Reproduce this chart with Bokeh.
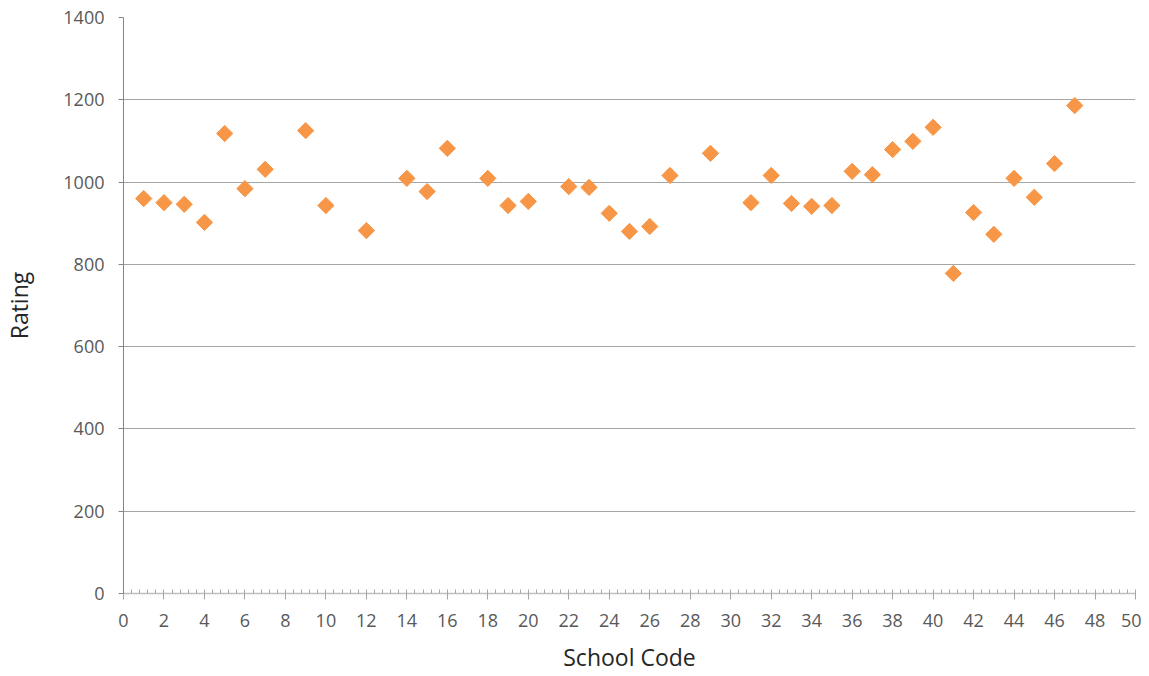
import numpy as np
from bokeh.plotting import figure
from bokeh.models import ColumnDataSource, FixedTicker, Range1d
from bokeh.embed import file_html
from bokeh.resources import INLINE

school_code = [1, 2, 3, 4, 5, 6, 7, 9, 10, 12, 14, 15, 16, 18, 19, 20, 22, 23, 24, 25,
               26, 27, 29, 31, 32, 33, 34, 35, 36, 37, 38, 39, 40, 41, 42, 43, 44, 45, 46, 47]
rating = [960, 950, 946, 902, 1118, 984, 1031, 1125, 943, 882, 1009, 977, 1082, 1009, 943, 953,
          989, 987, 924, 880, 892, 1016, 1070, 950, 1016, 948, 941, 943, 1026, 1018, 1079, 1099,
          1133, 778, 926, 873, 1009, 963, 1045, 1186]
x_ticks = list(range(0, 51, 2))
y_ticks = list(range(0, 1401, 200))

src = ColumnDataSource(data=dict(x=school_code, y=rating))

p = figure(width=1141, height=676, output_backend="svg", toolbar_location=None,
           x_range=Range1d(0, 50), y_range=Range1d(0, 1400),
           min_border_left=122, min_border_right=6, min_border_top=17, min_border_bottom=83)
p.outline_line_color = None
p.background_fill_color = "white"

p.scatter("x", "y", source=src, marker="square", size=11.5, angle=np.pi / 4,
          fill_color="#F79646", line_color="#F79646")

font = "Open Sans"
# x axis
xa = p.xaxis[0]
xa.ticker = FixedTicker(ticks=x_ticks, minor_ticks=list(np.round(np.arange(0, 50.01, 0.4), 2)))
xa.axis_line_color = "#BFBFBF"
xa.axis_line_width = 1.5
xa.major_tick_line_color = "#A6A6A6"
xa.minor_tick_line_color = "#A6A6A6"
xa.major_tick_in = 3
xa.major_tick_out = 6
xa.minor_tick_in = 4
xa.minor_tick_out = 0
xa.major_label_text_font = font
xa.major_label_text_font_size = "18px"
xa.major_label_text_color = "#595959"
xa.major_label_standoff = 14
xa.axis_label = "School Code"
xa.axis_label_text_font = font
xa.axis_label_text_font_size = "23px"
xa.axis_label_text_font_style = "normal"
xa.axis_label_text_color = "#262626"
xa.axis_label_standoff = 11

# y axis
ya = p.yaxis[0]
ya.ticker = FixedTicker(ticks=y_ticks)
ya.axis_line_color = "#868686"
ya.major_tick_line_color = "#868686"
ya.minor_tick_line_color = None
ya.major_tick_in = 0
ya.major_tick_out = 5
ya.major_label_text_font = font
ya.major_label_text_font_size = "18px"
ya.major_label_text_color = "#595959"
ya.major_label_standoff = 14
ya.axis_label = "Rating"
ya.axis_label_text_font = font
ya.axis_label_text_font_size = "23px"
ya.axis_label_text_font_style = "normal"
ya.axis_label_text_color = "#262626"
ya.axis_label_standoff = 25

p.xgrid.grid_line_color = None
p.ygrid.grid_line_color = "#A6A6A6"
p.ygrid.grid_line_width = 1

open("out.html", "w").write(file_html(p, INLINE))
